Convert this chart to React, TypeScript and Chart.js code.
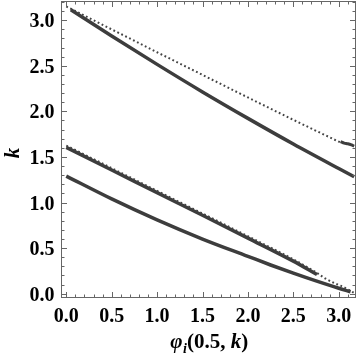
import React, { useEffect, useRef } from "react";
import { Chart, registerables } from "chart.js";

Chart.register(...registerables);

// Data
const topSolidX = [0.05, 0.5, 1.0, 1.5, 2.0, 2.5, 3.0, 3.17];
const topSolidY = [3.115, 2.827, 2.515, 2.213, 1.923, 1.642, 1.373, 1.283];

const topDotX = [0.0, 0.5, 1.0, 1.5, 2.0, 2.5, 3.02];
const topDotY = [3.15, 2.899, 2.648, 2.4, 2.152, 1.907, 1.658];

const topBlobX = [3.02, 3.06, 3.1, 3.14, 3.17];
const topBlobY = [1.668, 1.652, 1.645, 1.632, 1.618];

const midSolidX = [0.0, 0.5, 1.0, 1.5, 2.0, 2.5, 2.76];
const midSolidY = [1.605, 1.357, 1.108, 0.86, 0.61, 0.357, 0.21];

const midDotX = [0.0, 0.5, 1.0, 1.5, 2.0, 2.5, 2.76, 2.85, 2.95, 3.05, 3.1, 3.17];
const midDotY = [1.625, 1.377, 1.128, 0.88, 0.63, 0.377, 0.228, 0.168, 0.117, 0.074, 0.048, 0.008];

const botSolidX = [0.0, 0.5, 1.0, 1.5, 2.0, 2.25, 2.5, 2.75, 3.0, 3.13];
const botSolidY = [1.29, 1.04, 0.81, 0.6, 0.41, 0.315, 0.225, 0.14, 0.06, 0.022];

const xTickLabels = ["0.0", "0.5", "1.0", "1.5", "2.0", "2.5", "3.0"];
const yTickLabels = ["0.0", "0.5", "1.0", "1.5", "2.0", "2.5", "3.0"];

const X_MIN = -0.058, X_MAX = 3.19;
const Y_MIN = -0.047, Y_MAX = 3.21;

const LINE = "#3d3d3d";
const FRAME = "#666666";

function pts(xs: number[], ys: number[]) {
  return xs.map((x, i) => ({ x, y: ys[i] }));
}

const framePlugin = {
  id: "mmaFrame",
  afterDraw(chart: any) {
    const { ctx, chartArea } = chart;
    const xs = chart.scales.x;
    const ys = chart.scales.y;
    const { left, right, top, bottom } = chartArea;
    ctx.save();
    ctx.strokeStyle = FRAME;
    ctx.lineWidth = 1;
    ctx.strokeRect(left + 0.5, top + 0.5, right - left - 1, bottom - top - 1);

    // ticks
    ctx.beginPath();
    for (let i = -1; i <= 32; i++) {
      const v = i / 10;
      if (v < X_MIN || v > X_MAX) continue;
      const len = i % 5 === 0 ? 6 : 3.5;
      const px = Math.round(xs.getPixelForValue(v)) + 0.5;
      ctx.moveTo(px, bottom);
      ctx.lineTo(px, bottom - len);
      ctx.moveTo(px, top);
      ctx.lineTo(px, top + len);
    }
    for (let i = -1; i <= 33; i++) {
      const v = i / 10;
      if (v < Y_MIN || v > Y_MAX) continue;
      const len = i % 5 === 0 ? 6 : 3.5;
      const py = Math.round(ys.getPixelForValue(v)) + 0.5;
      ctx.moveTo(left, py);
      ctx.lineTo(left + len, py);
      ctx.moveTo(right, py);
      ctx.lineTo(right - len, py);
    }
    ctx.stroke();

    // tick labels
    ctx.fillStyle = "#000";
    ctx.font = "bold 20px 'Liberation Serif'";
    ctx.textAlign = "center";
    ctx.textBaseline = "alphabetic";
    xTickLabels.forEach((t) => {
      const px = xs.getPixelForValue(parseFloat(t));
      ctx.fillText(t, px, 321.5);
    });
    ctx.textAlign = "right";
    yTickLabels.forEach((t) => {
      const py = ys.getPixelForValue(parseFloat(t));
      ctx.fillText(t, 54.5, py + 7);
    });

    // y title
    ctx.save();
    ctx.translate(19, 153);
    ctx.rotate(-Math.PI / 2);
    ctx.textAlign = "center";
    ctx.font = "italic bold 21px 'Liberation Serif'";
    ctx.fillText("k", 0, 0);
    ctx.restore();

    // x title: φ_i(0.5, k)
    const pieces: [string, string, number][] = [
      ["\u03C6", "italic bold 21px 'Liberation Serif'", 0],
      ["i", "italic bold 14px 'Liberation Serif'", 5],
      ["(0.5, ", "bold 21px 'Liberation Serif'", 0],
      ["k", "italic bold 21px 'Liberation Serif'", 0],
      [")", "bold 21px 'Liberation Serif'", 0],
    ];
    let total = 0;
    const widths = pieces.map(([s, f]) => {
      ctx.font = f;
      const w = ctx.measureText(s).width;
      total += w;
      return w;
    });
    let cx = 209 - total / 2;
    ctx.textAlign = "left";
    pieces.forEach(([s, f, dy], i) => {
      ctx.font = f;
      ctx.fillText(s, cx, 348 + dy);
      cx += widths[i] + (i === 0 ? 0.5 : 0);
    });
    ctx.restore();
  },
};

export default function App() {
  const ref = useRef<HTMLCanvasElement | null>(null);
  useEffect(() => {
    if (!ref.current) return;
    const solid = (data: any) => ({
      data,
      showLine: true,
      borderColor: LINE,
      borderWidth: 3.5,
      pointRadius: 0,
      cubicInterpolationMode: "monotone",
      fill: false,
    });
    const dotted = (data: any) => ({
      data,
      showLine: true,
      borderColor: "#444444",
      borderWidth: 2,
      borderDash: [1.8, 2.6],
      pointRadius: 0,
      cubicInterpolationMode: "monotone",
      fill: false,
    });
    const chart = new Chart(ref.current, {
      type: "scatter",
      data: {
        datasets: [
          dotted(pts(topDotX, topDotY)),
          dotted(pts(midDotX, midDotY)),
          solid(pts(topSolidX, topSolidY)),
          solid(pts(midSolidX, midSolidY)),
          solid(pts(botSolidX, botSolidY)),
          { ...solid(pts(topBlobX, topBlobY)), borderWidth: 3 },
        ] as any,
      },
      options: {
        animation: false,
        responsive: false,
        layout: { padding: { left: 61, right: 4, top: 1, bottom: 59 } },
        plugins: { legend: { display: false }, tooltip: { enabled: false } },
        scales: {
          x: { type: "linear", min: X_MIN, max: X_MAX, display: false },
          y: { type: "linear", min: Y_MIN, max: Y_MAX, display: false },
        },
      },
      plugins: [framePlugin],
    });
    return () => chart.destroy();
  }, []);
  return (
    <div style={{ position: "absolute", left: 0, top: 0, width: 360, height: 357, background: "#fff" }}>
      <canvas ref={ref} width={360} height={357} />
    </div>
  );
}
